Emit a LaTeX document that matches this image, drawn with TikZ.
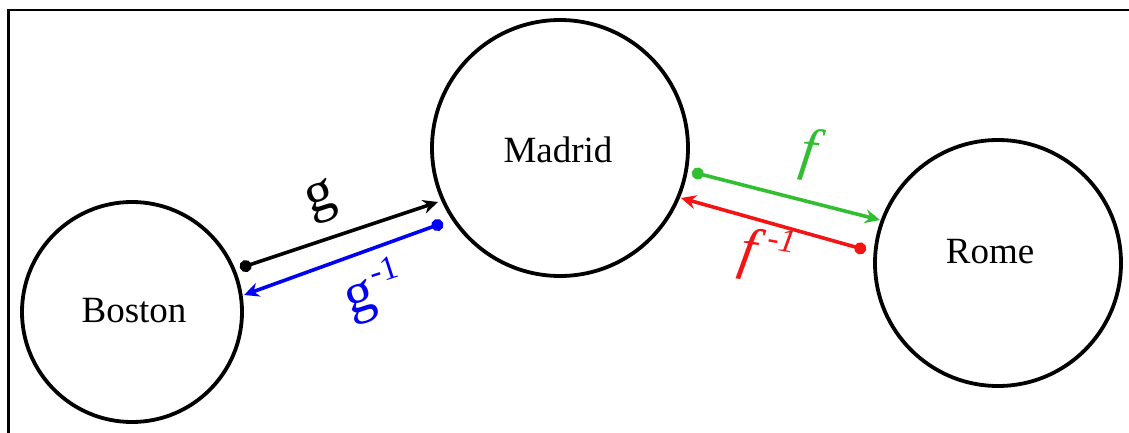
\documentclass[tikz,border=0pt]{standalone}
\usepackage{fontspec}
\setmainfont{Liberation Serif}
\usetikzlibrary{arrows.meta}
\definecolor{fgreen}{RGB}{50,190,50}
\definecolor{fred}{RGB}{245,20,20}
\definecolor{fblue}{RGB}{0,0,245}
\tikzset{
  city/.style={circle, draw, line width=3.8pt, inner sep=0pt},
  cityname/.style={font=\fontsize{37}{40}\selectfont},
  lab/.style={font=\fontsize{58}{62}\selectfont, inner sep=0pt},
  conn/.style={line width=3.6pt, {Circle[length=12pt]}-{Stealth[length=15pt,width=14pt]}},
}
\newcommand{\supx}[1]{\raisebox{22pt}{\fontsize{34}{36}\selectfont #1}}
\begin{document}
\begin{tikzpicture}[x=1pt,y=-1pt]
\useasboundingbox (0,0) rectangle (1129,433);
\draw[line width=2.2pt] (8.5,450) -- (8.5,10) -- (1150,10);
% cities
\node[city, minimum size=220pt] (boston) at (132,312) {};
\node[city, minimum size=256pt] (madrid) at (560,148) {};
\node[city, minimum size=246pt] (rome) at (998,263) {};
\node[cityname] (bostonl) at (134,311) {Boston};
\node[cityname] (madridl) at (558,150) {Madrid};
\node[cityname] (romel) at (990,252) {Rome};
% connector ends
\coordinate (g1) at (240,268);
\coordinate (g2) at (438,202);
\coordinate (b1) at (443,223);
\coordinate (b2) at (244,295);
\coordinate (f1) at (692,172);
\coordinate (f2) at (880,220);
\coordinate (r1) at (866,250);
\coordinate (r2) at (681,198);
\draw[conn, black] (g1) -- (g2);
\draw[conn, fblue] (b1) -- (b2);
\draw[conn, fgreen] (f1) -- (f2);
\draw[conn, fred] (r1) -- (r2);
% labels
\node[lab, rotate=18] (gl) at (322,202) {g};
\node[lab, fblue, rotate=18] (gil) at (374,291) {g\kern3pt\supx{-1}};
\node[lab, fgreen, rotate=-8] (fl) at (808,155) {\itshape f};
\node[lab, fred, rotate=-10] (fil) at (767,255) {\itshape f\,\supx{-1}};
\end{tikzpicture}
\end{document}
